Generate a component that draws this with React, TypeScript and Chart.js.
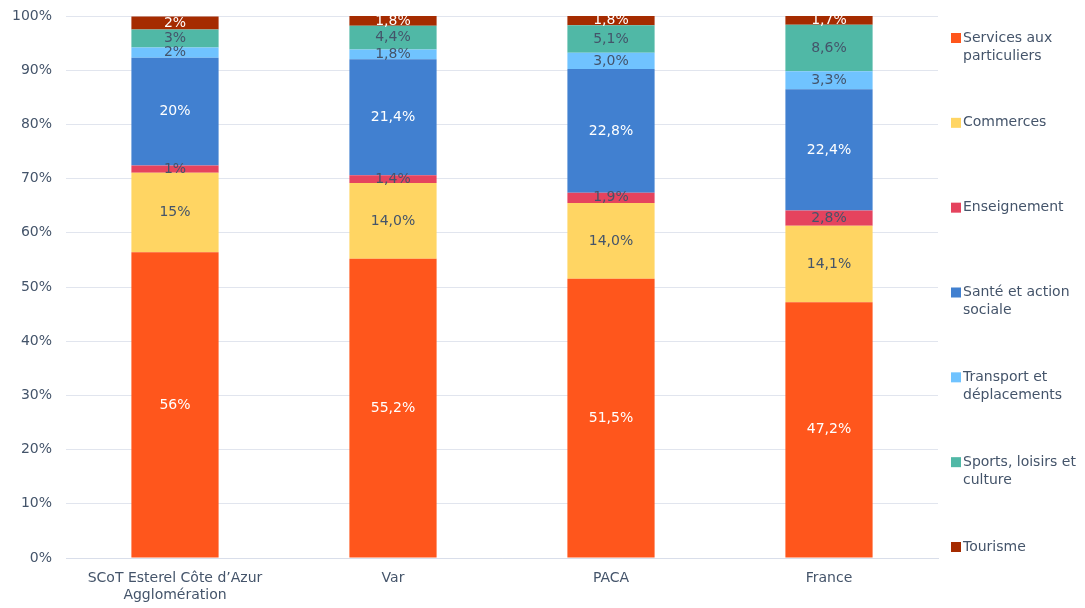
import React, { useEffect, useRef } from "react";
import { Chart, registerables } from "chart.js";

Chart.register(...registerables);

const categories: (string | string[])[] = [
  ["SCoT Esterel Côte d’Azur", "Agglomération"],
  "Var",
  "PACA",
  "France",
];
const seriesNames = [
  "Services aux particuliers",
  "Commerces",
  "Enseignement",
  "Santé et action sociale",
  "Transport et déplacements",
  "Sports, loisirs et culture",
  "Tourisme",
];
const services = [56.4, 55.2, 51.5, 47.2];
const commerces = [14.7, 14.0, 14.0, 14.1];
const enseignement = [1.3, 1.4, 1.9, 2.8];
const sante = [19.9, 21.4, 22.8, 22.4];
const transport = [1.9, 1.8, 3.0, 3.3];
const sports = [3.3, 4.4, 5.1, 8.6];
const tourisme = [2.4, 1.8, 1.8, 1.7];
const labelDecimals = [0, 1, 1, 1];
const yTicks = [0, 10, 20, 30, 40, 50, 60, 70, 80, 90, 100];

const seriesValues = [services, commerces, enseignement, sante, transport, sports, tourisme];
const seriesColors = ["#FF561C", "#FFD563", "#E5435E", "#4180D0", "#70C3FF", "#50B8A6", "#A52B00"];
const labelColors = ["#FFFFFF", "#44546A", "#44546A", "#FFFFFF", "#44546A", "#44546A", "#FFFFFF"];

const TEXT = "#44546A";
const FONT = "'DejaVu Sans', Verdana, sans-serif";

const fmt = (v: number, d: number) => v.toFixed(d).replace(".", ",") + "%";

const dataLabelPlugin = {
  id: "dataLabels",
  afterDatasetsDraw(chart: any) {
    const ctx = chart.ctx;
    ctx.save();
    ctx.font = `14px ${FONT}`;
    ctx.textAlign = "center";
    ctx.textBaseline = "middle";
    chart.data.datasets.forEach((ds: any, di: number) => {
      const meta = chart.getDatasetMeta(di);
      meta.data.forEach((el: any, i: number) => {
        const v = ds.data[i];
        const cy = (el.y + el.base) / 2;
        ctx.fillStyle = labelColors[di];
        ctx.fillText(fmt(v, labelDecimals[i]), el.x, cy);
      });
    });
    ctx.restore();
  },
};

const sideLegendPlugin = {
  id: "sideLegend",
  afterDraw(chart: any) {
    const ctx = chart.ctx;
    const area = chart.chartArea;
    ctx.save();
    ctx.font = `14px ${FONT}`;
    ctx.textBaseline = "middle";
    ctx.textAlign = "left";
    const sqX = area.right + 13;
    const txtX = sqX + 12;
    const maxW = chart.width - txtX - 1;
    const n = chart.data.datasets.length;
    const y0 = area.top + 22;
    const step = (area.bottom - 11 - y0) / (n - 1);
    chart.data.datasets.forEach((ds: any, i: number) => {
      const y = y0 + i * step;
      ctx.fillStyle = ds.backgroundColor;
      ctx.fillRect(sqX, y - 5, 10, 10);
      const words = String(ds.label).split(" ");
      const lines: string[] = [];
      let cur = "";
      words.forEach((w) => {
        const t = cur ? cur + " " + w : w;
        if (cur && ctx.measureText(t).width > maxW) {
          lines.push(cur);
          cur = w;
        } else cur = t;
      });
      if (cur) lines.push(cur);
      ctx.fillStyle = TEXT;
      lines.forEach((l, li) => ctx.fillText(l, txtX, y + li * 18));
    });
    ctx.restore();
  },
};

export default function App() {
  const ref = useRef<HTMLCanvasElement | null>(null);
  useEffect(() => {
    if (!ref.current) return;
    const chart = new Chart(ref.current, {
      type: "bar",
      data: {
        labels: categories as any,
        datasets: seriesNames.map((name, i) => ({
          label: name,
          data: seriesValues[i],
          backgroundColor: seriesColors[i],
          borderWidth: 0,
          barPercentage: 0.4,
          categoryPercentage: 1,
        })),
      },
      options: {
        animation: false,
        responsive: true,
        maintainAspectRatio: false,
        layout: { padding: { top: 16, right: 147, bottom: 0, left: 0 } },
        plugins: {
          legend: { display: false },
          tooltip: { enabled: false },
        },
        scales: {
          x: {
            stacked: true,
            grid: { display: false, drawTicks: false },
            border: { display: true, color: "#D9DEEA", width: 1 },
            ticks: { color: TEXT, font: { family: FONT, size: 14 }, padding: 12, maxRotation: 0 },
            afterFit: (axis: any) => {
              axis.height = 50;
            },
          },
          y: {
            stacked: true,
            min: 0,
            max: 100,
            afterBuildTicks: (axis: any) => {
              axis.ticks = yTicks.map((v) => ({ value: v }));
            },
            afterFit: (axis: any) => {
              axis.paddingTop = 0;
              axis.paddingBottom = 0;
              axis.width = 66;
            },
            grid: { color: "#E1E5EE", drawTicks: false },
            border: { display: false },
            ticks: {
              color: TEXT,
              font: { family: FONT, size: 14 },
              padding: 14,
              callback: (v: any) => v + "%",
            },
          },
        },
      },
      plugins: [dataLabelPlugin, sideLegendPlugin],
    });
    return () => chart.destroy();
  }, []);
  return (
    <div style={{ position: "absolute", left: 0, top: 0, width: 1085, height: 608 }}>
      <canvas ref={ref} />
    </div>
  );
}
